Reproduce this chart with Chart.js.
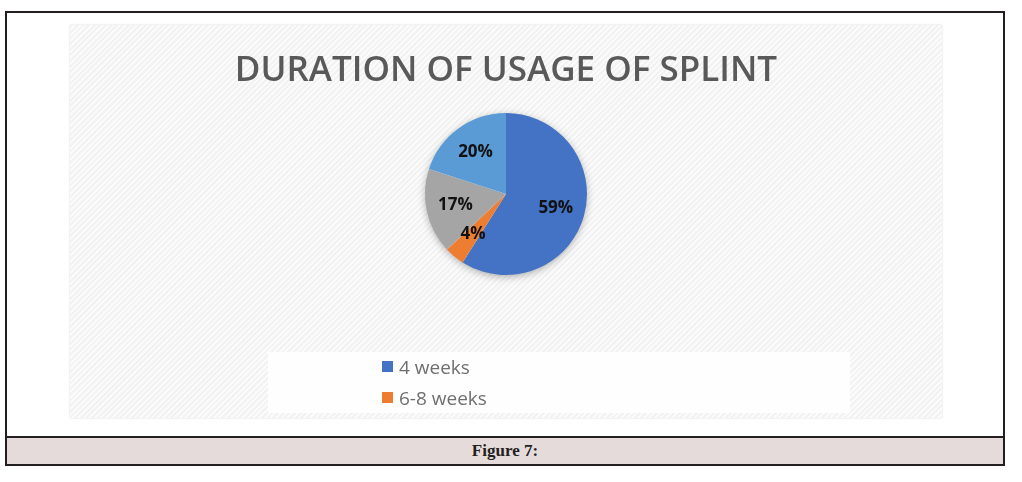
<!DOCTYPE html>
<html>
<head>
<meta charset="utf-8">
<script src="https://cdn.jsdelivr.net/npm/chart.js@4.4.1/dist/chart.umd.min.js"></script>
<style>
  body { margin: 0; background: #fff; width: 1022px; height: 482px; position: relative; overflow: hidden; }
  #frame { position: absolute; left: 5px; top: 11px; width: 996px; height: 451px; border: 2px solid #231f20; }
  #caption { position: absolute; left: 0; right: 0; bottom: 0; height: 26px; border-top: 2px solid #231f20;
    background: #e6dbdb; text-align: center; font: bold 17px "Liberation Serif", serif; line-height: 26px; color: #231f20; }
  #plot { position: absolute; left: 70px; top: 25px; width: 872px; height: 393px;
    background: repeating-linear-gradient(-45deg, #f2f2f2 0 2px, #fbfbfb 2px 4px);
    box-shadow: 0 0 2px #d8d8d8; }
  #legendBox { position: absolute; left: 268px; top: 352px; width: 582px; height: 61px; background: #fefefe; }
  #legend { list-style: none; margin: 0; padding: 0; position: absolute; left: 382px; top: 351px;
    font: 19px "Open Sans", sans-serif; color: #6f6f6f; }
  #legend li { height: 31px; line-height: 20px; display: flex; align-items: center; }
  #legend span.sw { display: inline-block; width: 11px; height: 11px; margin-right: 6px; }
</style>
</head>
<body>
<div id="frame"><div id="caption">Figure 7:</div></div>
<div id="plot"><canvas id="chart"></canvas></div>
<div id="legendBox"></div>
<ul id="legend"></ul>
<script>
'use strict';

// chart data
const categories = ['4 weeks', '6-8 weeks', '8-12 weeks', 'More than 12 weeks'];
const percentages = [59, 4, 17, 20];
const sliceColors = ['#4472c4', '#ed7d31', '#a5a5a5', '#5b9bd5'];
const legendShown = 2; // the legend in the picture only shows the first two entries

let canvasElem = document.getElementById('chart');

// percentage labels inside the slices
const sliceLabels = {
    id: 'sliceLabels',
    beforeDatasetsDraw(chart) {
        // soft shadow under the pie
        let arc = chart.getDatasetMeta(0).data[0];
        let ctx = chart.ctx;
        ctx.save();
        ctx.shadowColor = 'rgba(0,0,0,0.35)';
        ctx.shadowBlur = 9;
        ctx.shadowOffsetY = 2;
        ctx.fillStyle = '#ffffff';
        ctx.beginPath();
        ctx.arc(arc.x, arc.y, arc.outerRadius - 1, 0, Math.PI * 2);
        ctx.fill();
        ctx.restore();
    },
    afterDatasetsDraw(chart) {
        let ctx = chart.ctx;
        let meta = chart.getDatasetMeta(0);
        ctx.save();
        ctx.font = 'bold 17px "Open Sans", sans-serif';
        ctx.fillStyle = '#111';
        ctx.textAlign = 'center';
        ctx.textBaseline = 'middle';
        meta.data.forEach((arc, i) => {
            let mid = (arc.startAngle + arc.endAngle) / 2;
            let r = arc.outerRadius * 0.64;
            ctx.fillText(percentages[i] + '%', arc.x + Math.cos(mid) * r, arc.y + Math.sin(mid) * r);
        });
        ctx.restore();
    }
};

function renderChart() {
    let chart = new Chart(canvasElem, {
        type: 'pie',
        data: {
            labels: categories,
            datasets: [{
                data: percentages,
                backgroundColor: sliceColors,
                borderWidth: 0,
                radius: 81
            }]
        },
        options: {
            responsive: false,
            animation: false,
            layout: { padding: { bottom: 130 } },
            plugins: {
                title: {
                    display: true,
                    text: 'DURATION OF USAGE OF SPLINT',
                    color: '#595959',
                    font: { family: '"Open Sans", sans-serif', size: 35, weight: '600' },
                    padding: { top: 25, bottom: 8 }
                },
                legend: { display: false },
                tooltip: { enabled: false }
            }
        },
        plugins: [sliceLabels]
    });

    // legend list built from the chart's own legend items
    let items = Chart.overrides.pie.plugins.legend.labels.generateLabels(chart);
    let ul = document.getElementById('legend');
    items.slice(0, legendShown).forEach(item => {
        let li = document.createElement('li');
        let sw = document.createElement('span');
        sw.className = 'sw';
        sw.style.background = item.fillStyle;
        li.appendChild(sw);
        li.appendChild(document.createTextNode(item.text));
        ul.appendChild(li);
    });
}

canvasElem.width = 872;
canvasElem.height = 393;
renderChart();
</script>
</body>
</html>
